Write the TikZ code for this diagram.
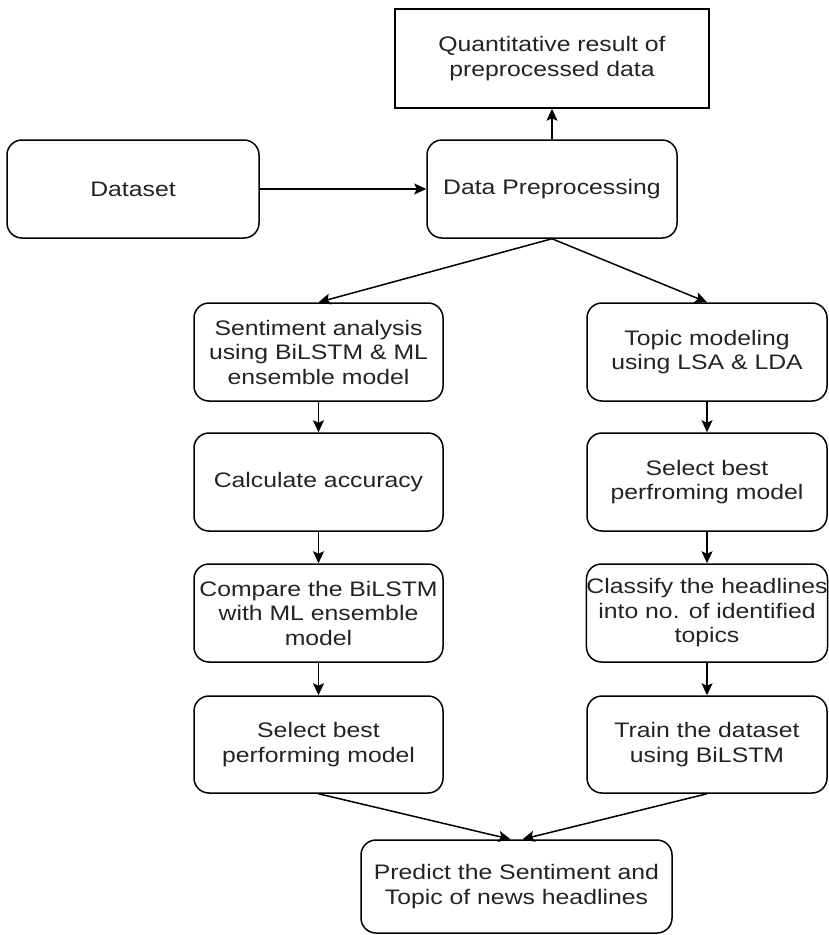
\documentclass[tikz,border=0pt]{standalone}
\usepackage{fontspec}
\setmainfont[FakeStretch=1.18]{Liberation Sans}
\usetikzlibrary{arrows.meta}
\definecolor{txt}{RGB}{35,35,35}
\tikzset{
  base/.style={draw=black, line width=1.5pt, align=center, inner sep=0pt,
    text=txt, font=\fontsize{21}{24.5}\selectfont},
  rbox/.style={base, rounded corners=15pt},
  sbox/.style={base},
  conn/.style={line width=1.5pt, -{Stealth[length=12pt,width=11pt,inset=2.5pt]}}
}
\begin{document}
\begin{tikzpicture}[x=1pt,y=-1pt]
\useasboundingbox (0,0) rectangle (828,935);
\node[sbox, minimum width=314pt, minimum height=99pt] (quant) at (552,58.5) {Quantitative result of\\preprocessed data};
\node[rbox, minimum width=252pt, minimum height=98pt] (dataset) at (133,189) {Dataset};
\node[rbox, minimum width=250pt, minimum height=98pt] (dp) at (552,189) {Data Preprocessing};

\node[rbox, minimum width=249pt, minimum height=98pt] (sent) at (318.5,352) {Sentiment analysis\\using BiLSTM \& ML\\ensemble model};
\node[rbox, minimum width=249pt, minimum height=98pt] (calc) at (318.5,482) {Calculate accuracy};
\node[rbox, minimum width=249pt, minimum height=98pt] (comp) at (318.5,613) {Compare the BiLSTM\\with ML ensemble\\model};
\node[rbox, minimum width=249pt, minimum height=97pt] (selL) at (318.5,744.5) {Select best\\performing model};

\node[rbox, minimum width=240pt, minimum height=98pt] (topic) at (707,352) {Topic modeling\\using LSA \& LDA};
\node[rbox, minimum width=240pt, minimum height=98pt] (selR) at (707,482) {Select best\\perfroming model};
\node[rbox, minimum width=240pt, minimum height=98pt] (class) at (707,613) {Classify the headlines\\into no. of identified\\topics};
\node[rbox, minimum width=240pt, minimum height=97pt] (train) at (707,744.5) {Train the dataset\\using BiLSTM};

\node[rbox, minimum width=311pt, minimum height=93pt] (pred) at (516.5,886.5) {Predict the Sentiment and\\Topic of news headlines};

\coordinate (pl) at ([xshift=-6pt]pred.north);
\coordinate (pr) at ([xshift=6pt]pred.north);

\draw[conn] (dataset.east) -- (dp.west);
\draw[conn] (dp.north) -- (quant.south);
\draw[conn] (dp.south) -- (sent.north);
\draw[conn] (dp.south) -- (topic.north);
\draw[conn] (sent) -- (calc);
\draw[conn] (calc) -- (comp);
\draw[conn] (comp) -- (selL);
\draw[conn] (topic) -- (selR);
\draw[conn] (selR) -- (class);
\draw[conn] (class) -- (train);
\draw[conn] (selL.south) -- (pl);
\draw[conn] (train.south) -- (pr);
\end{tikzpicture}
\end{document}
